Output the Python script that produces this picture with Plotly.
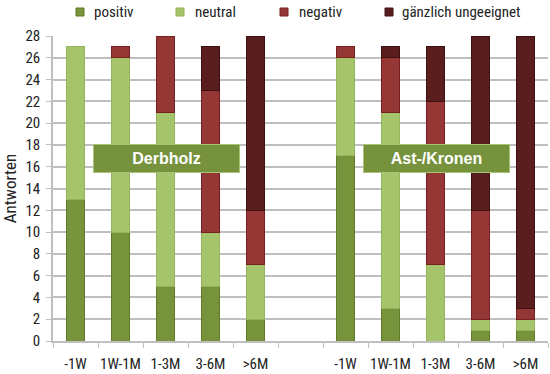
import plotly.graph_objects as go

categories = ["D-1W", "D1W-1M", "D1-3M", "D3-6M", "D>6M", "gap",
              "A-1W", "A1W-1M", "A1-3M", "A3-6M", "A>6M"]
tick_labels = ["-1W", "1W-1M", "1-3M", "3-6M", ">6M", "",
               "-1W", "1W-1M", "1-3M", "3-6M", ">6M"]

positiv = [13, 10, 5, 5, 2, None, 17, 3, 0, 1, 1]
neutral = [14, 16, 16, 5, 5, None, 9, 18, 7, 1, 1]
negativ = [0, 1, 7, 13, 5, None, 1, 5, 15, 10, 1]
ungeeignet = [0, 0, 0, 4, 16, None, 0, 1, 5, 16, 25]

series_names = ["positiv", "neutral", "negativ", "gänzlich ungeeignet"]
series_values = [positiv, neutral, negativ, ungeeignet]
fills = ["#77933C", "#A6C46B", "#953735", "#5A1E1E"]
edges = ["#5E7A2A", "#95B35B", "#7A1F1F", "#3E1010"]

font = "Liberation Sans Narrow, Arial Narrow, Roboto Condensed, Liberation Sans, sans-serif"

L, R, T, B, W, H = 53, 2, 36, 33, 550, 374
PW, PH = W - L - R, H - T - B

def px_x(p):
    return (p - L) / PW

def px_y(p):
    return (H - B - p) / PH

fig = go.Figure()
for name, vals, fill, edge in zip(series_names, series_values, fills, edges):
    fig.add_trace(go.Bar(
        x=categories, y=vals, name=name, width=0.38, showlegend=False,
        marker=dict(color=fill,
                    line=dict(color=edge, width=[1 if v else 0 for v in vals])),
    ))

fig.update_layout(
    barmode="stack",
    width=W, height=H,
    margin=dict(l=L, r=R, t=T, b=B, autoexpand=False),
    paper_bgcolor="white", plot_bgcolor="white",
    font=dict(family=font, size=15, color="#222"),
    showlegend=False,
    xaxis=dict(
        type="category", categoryorder="array", categoryarray=categories,
        tickvals=categories, ticktext=tick_labels, tickangle=0,
        range=[-0.5, 10.5], tickson="boundaries", ticks="outside", ticklen=5,
        tickcolor="#BFBFBF", showgrid=False, showline=True, linecolor="#BFBFBF",
        linewidth=1.5, ticklabelstandoff=8, tickfont=dict(size=15),
        automargin=False,
    ),
    yaxis=dict(
        range=[0, 28], dtick=2, tick0=0, showgrid=True, gridcolor="#BFBFBF",
        gridwidth=1.5, showline=True, linecolor="#BFBFBF", linewidth=1.5,
        ticks="outside", ticklen=5, tickcolor="#BFBFBF", zeroline=False,
        tickfont=dict(size=15), ticklabelstandoff=3, automargin=False,
        title=dict(text="Antworten", font=dict(size=17), standoff=12),
    ),
)

for text, xc in [("Derbholz", 2.02), ("Ast-/Kronen", 8.02)]:
    fig.add_annotation(
        x=xc, y=16.75, xref="x", yref="y", text="<b>" + text + "</b>",
        showarrow=False, width=145, height=27, bgcolor="#76923C",
        bordercolor="#A9C478", borderwidth=1, borderpad=0,
        font=dict(family="Liberation Sans, Arial, sans-serif", size=16, color="white"),
    )

# legend drawn in the top margin
sq_x = [76, 176, 280, 385]
tx_x = [92, 193, 297, 400]
for name, fill, edge, sx, tx in zip(series_names, fills, edges, sq_x, tx_x):
    fig.add_shape(type="rect", xref="paper", yref="paper",
                  x0=px_x(sx), x1=px_x(sx + 8), y0=px_y(16), y1=px_y(8),
                  fillcolor=fill, line=dict(color=edge, width=1))
    fig.add_annotation(x=px_x(tx), y=px_y(12), xref="paper", yref="paper",
                       xanchor="left", yanchor="middle", text=name,
                       showarrow=False, font=dict(size=15, color="#222"))

fig.write_html("out.html", config={"displayModeBar": False},
               post_script="document.body.style.margin='0';document.body.style.overflow='hidden';")
